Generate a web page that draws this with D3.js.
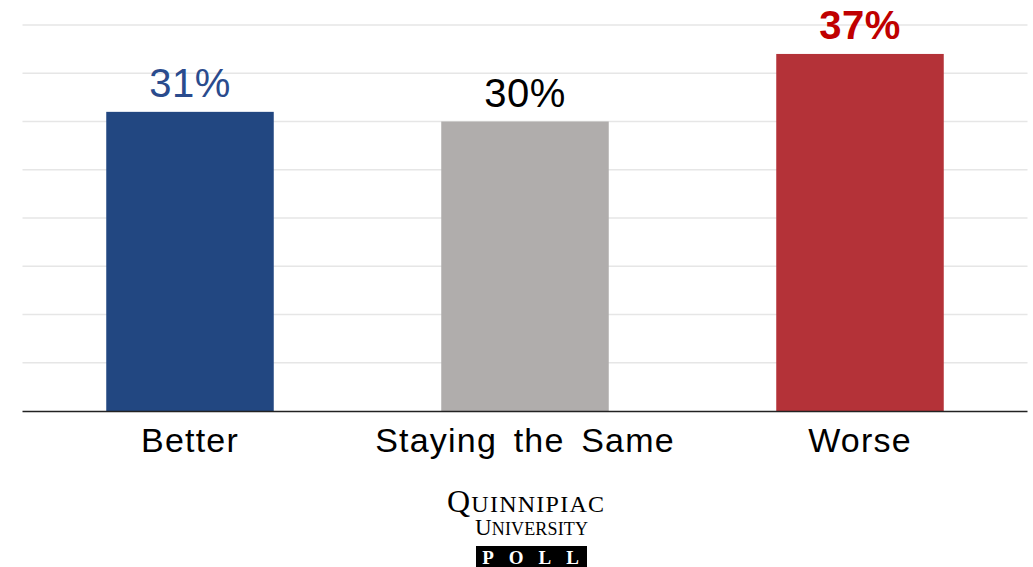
<!DOCTYPE html>
<meta charset="utf-8">
<style>
body { margin: 0; background: #fff; }
.cat-label { font: 34px "Liberation Sans", Arial, sans-serif; letter-spacing: 1.2px; word-spacing: 6px; fill: #000; }
.val-label { font-family: "Liberation Sans", Arial, sans-serif; font-size: 40px; letter-spacing: 0.5px; }
.grid line { stroke: #e6e6e6; stroke-width: 1.5; }
.logo { font-family: "Liberation Serif", "DejaVu Serif", serif; fill: #000; }
</style>
<body>
<script src="https://cdn.jsdelivr.net/npm/d3@7"></script>
<script>

var categories = ["Better", "Staying the Same", "Worse"];
var values = [31, 30, 37];
var barColors = ["#224781", "#b0adac", "#b43238"];
var labelColors = ["#2a4b8d", "#000000", "#c00000"];
var gridTicks = [5, 10, 15, 20, 25, 30, 35, 40];

var svg = d3.select("body").append("svg")
    .attr("width", 1033)
    .attr("height", 567);

var x = d3.scaleBand()
    .domain(categories)
    .range([22.5, 1027.5])
    .paddingInner(0.5)
    .paddingOuter(0.25);

var y = d3.scaleLinear()
    .domain([0, 40])
    .range([411, 25]);

// gridlines
svg.append("g")
    .attr("class", "grid")
  .selectAll("line")
  .data(gridTicks)
  .enter().append("line")
    .attr("x1", 22.5)
    .attr("x2", 1027.5)
    .attr("y1", function(d) { return y(d); })
    .attr("y2", function(d) { return y(d); });

// bars
svg.selectAll(".bar")
    .data(values)
  .enter().append("rect")
    .attr("class", "bar")
    .attr("x", function(d, i) { return x(categories[i]); })
    .attr("width", x.bandwidth())
    .attr("y", function(d) { return y(d); })
    .attr("height", function(d) { return y(0) - y(d); })
    .attr("fill", function(d, i) { return barColors[i]; });

// baseline + category labels
var xAxis = svg.append("g")
    .attr("transform", "translate(0," + y(0) + ")")
    .call(d3.axisBottom(x).tickSize(0).tickPadding(0));
xAxis.select(".domain").attr("d", "M22.5,0.5H1027.5").attr("stroke", "#222").attr("stroke-width", 1.5);
xAxis.selectAll(".tick text")
    .attr("class", "cat-label")
    .attr("dy", null)
    .attr("y", 41);

// value labels
svg.selectAll(".val-label")
    .data(values)
  .enter().append("text")
    .attr("class", "val-label")
    .attr("text-anchor", "middle")
    .attr("x", function(d, i) { return x(categories[i]) + x.bandwidth() / 2; })
    .attr("y", function(d) { return y(d) - 15; })
    .attr("fill", function(d, i) { return labelColors[i]; })
    .style("font-weight", function(d, i) { return i === 2 ? "bold" : "normal"; })
    .text(function(d) { return d + "%"; });

// logo
var logo = svg.append("g").attr("class", "logo");

var t1 = logo.append("text")
    .attr("x", 447)
    .attr("y", 512)
    .attr("textLength", 157)
    .attr("lengthAdjust", "spacing");
t1.append("tspan").attr("font-size", 32).text("Q");
t1.append("tspan").attr("font-size", 24).text("UINNIPIAC");

var t2 = logo.append("text")
    .attr("x", 475)
    .attr("y", 535)
    .attr("textLength", 113)
    .attr("lengthAdjust", "spacing");
t2.append("tspan").attr("font-size", 23).text("U");
t2.append("tspan").attr("font-size", 18).text("NIVERSITY");

logo.append("rect")
    .attr("x", 476)
    .attr("y", 546)
    .attr("width", 111)
    .attr("height", 21)
    .attr("fill", "#000");

logo.append("text")
    .attr("x", 531)
    .attr("y", 564)
    .attr("text-anchor", "middle")
    .attr("fill", "#fff")
    .attr("font-size", 19)
    .attr("font-weight", "bold")
    .attr("letter-spacing", 15)
    .attr("dx", 7)
    .text("POLL");

</script>
